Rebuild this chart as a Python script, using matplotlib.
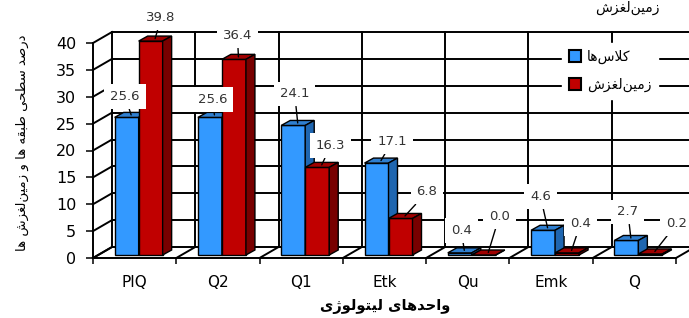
import matplotlib
matplotlib.use("Agg")
import matplotlib.pyplot as plt
from matplotlib.patches import Polygon, Patch

plt.rcParams['font.family'] = ['DejaVu Sans']

# chart data
categories = ['PIQ', 'Q2', 'Q1', 'Etk', 'Qu', 'Emk', 'Q']
classes = [25.6, 25.6, 24.1, 17.1, 0.4, 4.6, 2.7]      # کلاس‌ها
slides = [39.8, 36.4, 16.3, 6.8, 0.0, 0.4, 0.2]        # زمین‌لغزش
yticks = [0, 5, 10, 15, 20, 25, 30, 35, 40]

series_names = ['کلاس‌ها', 'زمین‌لغزش']
ylabel = 'درصد سطحی طبقه ها و زمین‌لغزش ها'
xlabel = 'واحدهای لیتولوژی'
title = 'زمین‌لغزش'

# label offsets (pixels, from top face of each bar)
off_classes = [(-6, 18), (-2, 15), (-3, 29), (11, 19), (-3, 20), (-7, 31), (-3, 26)]
off_slides = [(6, 21), (-1, 21), (9, 19), (22, 24), (11, 36), (9, 27), (22, 28)]

# arabic shaping (matplotlib has no shaping engine)
FORMS = {
    'ا': ('\uFE8D', '\uFE8E', None, None),
    'ب': ('\uFE8F', '\uFE90', '\uFE91', '\uFE92'),
    'ت': ('\uFE95', '\uFE96', '\uFE97', '\uFE98'),
    'ح': ('\uFEA1', '\uFEA2', '\uFEA3', '\uFEA4'),
    'د': ('\uFEA9', '\uFEAA', None, None),
    'ر': ('\uFEAD', '\uFEAE', None, None),
    'ز': ('\uFEAF', '\uFEB0', None, None),
    'ژ': ('\uFB8A', '\uFB8B', None, None),
    'س': ('\uFEB1', '\uFEB2', '\uFEB3', '\uFEB4'),
    'ش': ('\uFEB5', '\uFEB6', '\uFEB7', '\uFEB8'),
    'ص': ('\uFEB9', '\uFEBA', '\uFEBB', '\uFEBC'),
    'ط': ('\uFEC1', '\uFEC2', '\uFEC3', '\uFEC4'),
    'غ': ('\uFECD', '\uFECE', '\uFECF', '\uFED0'),
    'ق': ('\uFED5', '\uFED6', '\uFED7', '\uFED8'),
    'ک': ('\uFB8E', '\uFB8F', '\uFB90', '\uFB91'),
    'ل': ('\uFEDD', '\uFEDE', '\uFEDF', '\uFEE0'),
    'م': ('\uFEE1', '\uFEE2', '\uFEE3', '\uFEE4'),
    'ن': ('\uFEE5', '\uFEE6', '\uFEE7', '\uFEE8'),
    'ه': ('\uFEE9', '\uFEEA', '\uFEEB', '\uFEEC'),
    'و': ('\uFEED', '\uFEEE', None, None),
    'ی': ('\uFBFC', '\uFBFD', '\uFBFE', '\uFBFF'),
}


def joins_next(c):
    return c in FORMS and FORMS[c][2] is not None


def shape(text):
    chars = list(text)
    res = []
    i = 0
    while i < len(chars):
        c = chars[i]
        if c not in FORMS:
            if c != '\u200c':
                res.append(c)
            i += 1
            continue
        prev_j = i > 0 and joins_next(chars[i - 1])
        if c == 'ل' and i + 1 < len(chars) and chars[i + 1] == 'ا':
            res.append('\uFEFC' if prev_j else '\uFEFB')
            i += 2
            continue
        next_j = i + 1 < len(chars) and chars[i + 1] in FORMS and joins_next(c)
        iso, fin, ini, med = FORMS[c]
        if prev_j and next_j:
            g = med
        elif prev_j:
            g = fin
        elif next_j:
            g = ini
        else:
            g = iso
        res.append(g)
        i += 1
    return ''.join(reversed(res))


W, H = 689, 318
fig = plt.figure(figsize=(W / 100, H / 100), dpi=100)

# front plane of the plot in pixels
left, right, bot, top = 93, 676, 258, 43
ax = fig.add_axes([left / W, 1 - bot / H, (right - left) / W, (bot - top) / H])
ax.set_xlim(-0.5, 6.5)
ax.set_ylim(0, 40)
ax.patch.set_visible(False)

px = (right - left) / 7.0     # pixels per category
py = (bot - top) / 40.0       # pixels per unit

DX, DY = 19 / px, 11 / py            # wall depth
BX, BY = 4 / px, 3 / py              # bar front offset
dx, dy = 9 / px, 5 / py              # bar depth
bw = 24 / px

lw = 1.4
bounds = [i - 0.5 for i in range(len(categories) + 1)]

# back wall
for v in yticks:
    ax.plot([-0.5 + DX, 6.5 + DX], [v + DY, v + DY], color='black', lw=lw, clip_on=False, zorder=1)
    ax.plot([-0.5, -0.5 + DX], [v, v + DY], color='black', lw=lw, clip_on=False, zorder=1)
for b in bounds:
    ax.plot([b + DX, b + DX], [DY, 40 + DY], color='black', lw=lw, clip_on=False, zorder=1)
    ax.plot([b, b + DX], [0, DY], color='black', lw=lw, clip_on=False, zorder=1)

# bars
blue = ('#3399FF', '#2F7FD0', '#1F66B0')
red = ('#C00000', '#A00000', '#780000')
for i in range(len(categories)):
    for vals, col, shift, offs in ((classes, blue, -bw, off_classes), (slides, red, 0, off_slides)):
        v = vals[i]
        x0 = i + BX + shift
        x1 = x0 + bw
        y0 = BY
        y1 = BY + v
        ax.bar(x0, v, width=bw, bottom=y0, align='edge', color=col[0], edgecolor='black',
               lw=1, zorder=3, clip_on=False)
        ax.add_patch(Polygon([(x0, y1), (x1, y1), (x1 + dx, y1 + dy), (x0 + dx, y1 + dy)],
                             closed=True, fc=col[1], ec='black', lw=1, zorder=3, clip_on=False))
        ax.add_patch(Polygon([(x1, y0), (x1 + dx, y0 + dy), (x1 + dx, y1 + dy), (x1, y1)],
                             closed=True, fc=col[2], ec='black', lw=1, zorder=3, clip_on=False))
        ax.annotate(f'{v:.1f}', xy=(x0 + bw / 2 + dx / 2, y1 + dy / 2),
                    xytext=offs[i], textcoords='offset pixels', ha='center', va='center',
                    fontsize=9.5, color='#333333', zorder=5, annotation_clip=False,
                    bbox=dict(boxstyle='square,pad=0.45', fc='white', ec='none'),
                    arrowprops=dict(arrowstyle='-', color='black', lw=1, shrinkA=0, shrinkB=0))

# axes
for s in ('top', 'right'):
    ax.spines[s].set_visible(False)
ax.spines['left'].set_linewidth(lw)
ax.spines['bottom'].set_linewidth(lw)
ax.set_yticks(yticks)
ax.tick_params(axis='y', direction='out', length=5, width=1.1, labelsize=11.5, pad=7)
ax.set_xticks(bounds)
ax.set_xticklabels([])
ax.tick_params(axis='x', which='major', direction='out', length=4, width=1.1)
ax.set_xticks(range(len(categories)), minor=True)
ax.set_xticklabels(categories, minor=True)
ax.tick_params(axis='x', which='minor', length=0, labelsize=11, pad=12)

fig.text(22 / W, 1 - 143 / H, shape(ylabel), rotation=90, ha='center', va='center', fontsize=9.5)
fig.text(385 / W, 1 - 307 / H, shape(xlabel), ha='center', va='center', fontsize=10.5,
         fontweight='bold')
fig.text(627 / W, 1 - 1 / H, shape(title), ha='center', va='top', fontsize=10)

handles = [Patch(fc=blue[0], ec='black', lw=1.5), Patch(fc=red[0], ec='black', lw=1.5)]
fig.legend(handles, [shape(n) for n in series_names], loc='upper left',
           bbox_to_anchor=(555 / W, 1 - 36 / H), frameon=True, fancybox=False,
           edgecolor='white', facecolor='white', framealpha=1, fontsize=10,
           handlelength=0.9, handleheight=0.9, handletextpad=0.4, labelspacing=1.0,
           borderpad=0.5)

fig.savefig('out.png', dpi=100)
